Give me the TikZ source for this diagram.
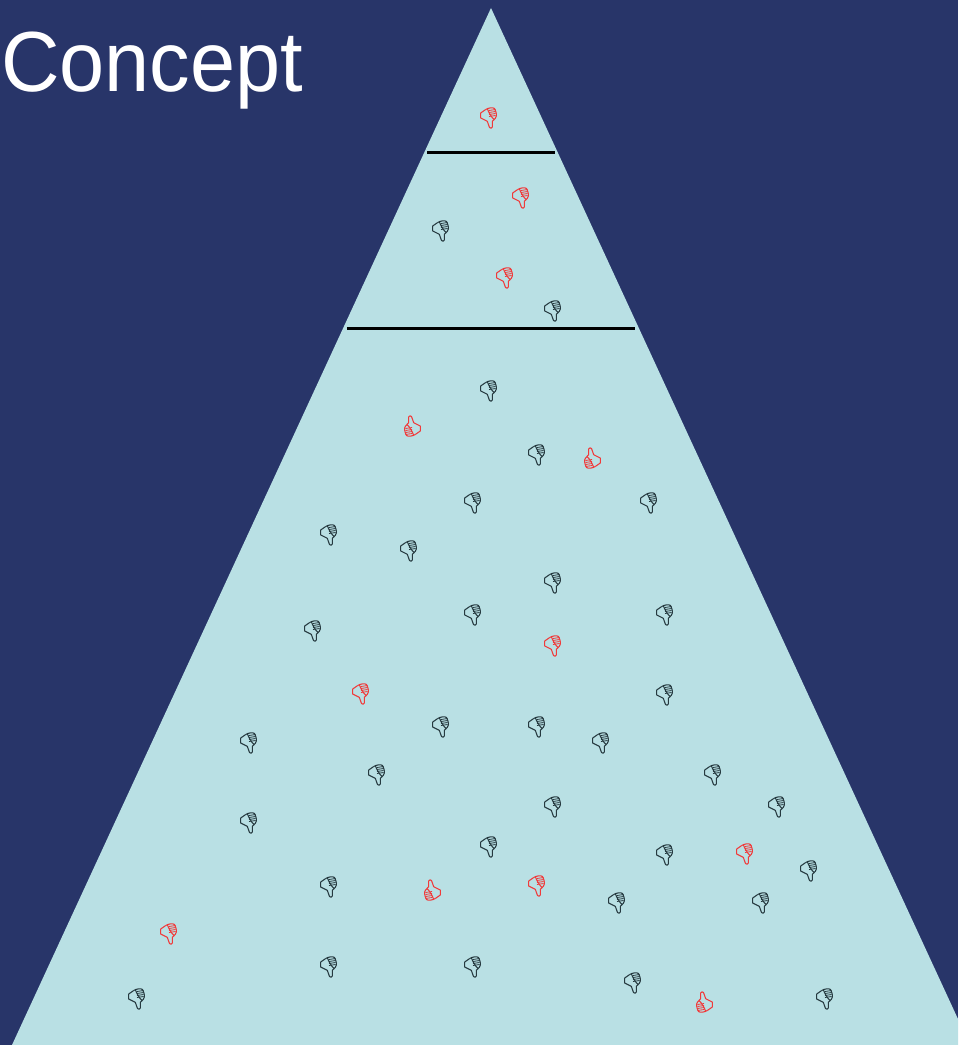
\documentclass[tikz,border=0pt]{standalone}
\usepackage{fontspec}
\setmainfont{Liberation Sans}
\definecolor{navy}{HTML}{283569}
\definecolor{pale}{HTML}{B9E0E4}
\definecolor{thumbred}{HTML}{F03A3A}
\definecolor{thumbdark}{HTML}{263A40}
\tikzset{
  thumb/.pic={
    \draw [line width=0.8pt, line join=round, pic actions]
      (-2.3,-8.5) -- (-7.3,-5) -- (-7.3,0) -- (-0.7,3.3) -- (1.5,9.5)
      .. controls (2.2,10.5) and (4,10.5) .. (4.3,9) -- (4.3,3.3) -- (6,1.5);
    \draw [line width=0.8pt, pic actions]
      (-2.3,-8.5) .. controls (0,-10) and (5,-11) .. (6.5,-9.5)
      .. controls (8.5,-6) and (9,-2) .. (7.5,0) -- (6,1.5)
      .. controls (4,0) and (1,-5) .. (-0.5,-8.8);
    \foreach \s in {-7.5,-5.5,-3.5,-1.5}
      \draw [line width=0.6pt, pic actions] (1,\s) -- (7.5,{\s-1});
  }
}
\begin{document}
\begin{tikzpicture}[x=0.75pt, y=-0.75pt]
\useasboundingbox (0,0) rectangle (958,1045);
\clip (0,0) rectangle (958,1045);
\fill [navy] (0,0) rectangle (958,1045);
\fill [pale] (491,8) coordinate (apex) -- (12,1045) -- (970,1045) -- cycle;
\node [anchor=base west, inner sep=0pt, text=white, font=\fontsize{64pt}{64pt}\selectfont, xscale=0.95] (title) at (1,92) {Concept};
\coordinate (a1) at (427,152.5);
\coordinate (b1) at (555,152.5);
\coordinate (a2) at (347,328.5);
\coordinate (b2) at (635,328.5);
\draw [line width=2.2pt] (a1) -- (b1);
\draw [line width=2.2pt] (a2) -- (b2);
\foreach \x/\y in {488/118, 520/198, 504/278, 552/646, 360/694, 744/854, 536/886, 168/934}
  \pic [color=thumbred] at (\x,\y) {thumb};
\foreach \x/\y in {413/426, 593/458, 433/890, 705/1002}
  \pic [color=thumbred, rotate=180] at (\x,\y) {thumb};
\foreach \x/\y in {440/231, 552/311, 488/391, 536/455, 472/503, 648/503, 328/535, 408/551,
    552/583, 472/615, 664/615, 312/631, 664/695, 440/727, 536/727, 248/743, 600/743,
    376/775, 712/775, 552/807, 776/807, 248/823, 488/847, 664/855, 808/871, 328/887,
    616/903, 760/903, 328/967, 472/967, 632/983, 136/999, 824/999}
  \pic [color=thumbdark] at (\x,\y) {thumb};
\end{tikzpicture}
\end{document}
